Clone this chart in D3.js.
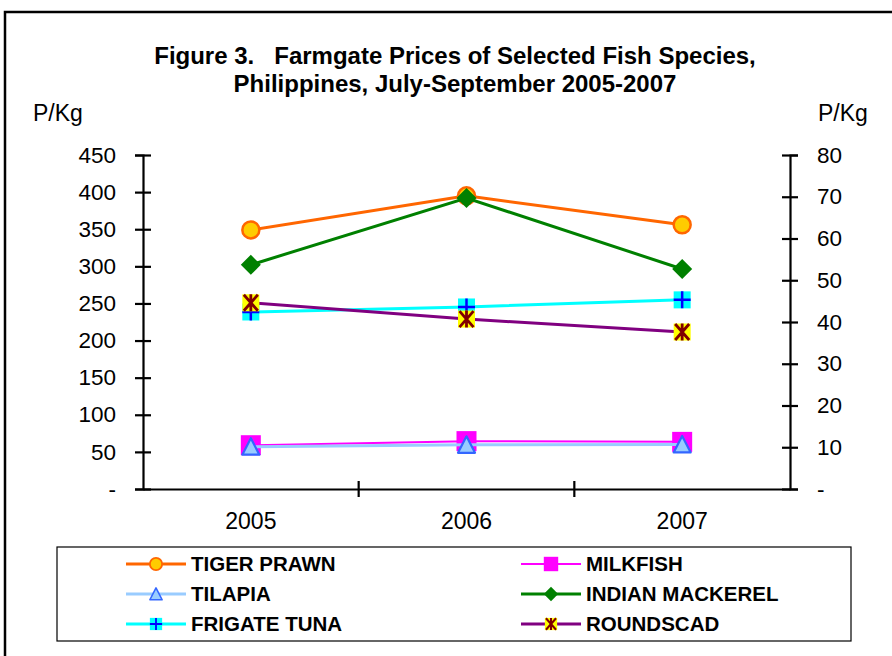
<!DOCTYPE html>
<html>
<head>
<meta charset="utf-8">
<script src="https://cdn.jsdelivr.net/npm/d3@7"></script>
<style>
  body { margin: 0; background: #fff; }
  svg { font-family: 'Liberation Sans', Arial, sans-serif; }
</style>
</head>
<body>
<svg id="container"></svg>
<script>
// data (P/Kg)
const years = ['2005', '2006', '2007']
const tigerPrawn = [349, 395, 356]
const milkfish = [59, 64.5, 63.5]
const tilapia = [57, 59.5, 60]
// these three are plotted on the right axis
const indianMackerel = [53.7, 69.7, 52.7]
const frigateTuna = [42.4, 43.6, 45.3]
const roundscad = [44.6, 40.7, 37.6]

const leftTicks = [0, 50, 100, 150, 200, 250, 300, 350, 400, 450]
const rightTicks = [0, 10, 20, 30, 40, 50, 60, 70, 80]

const series = [
  { name: 'TIGER PRAWN', values: tigerPrawn, axis: 'left', color: '#ff6600', width: 3, marker: 'circle' },
  { name: 'MILKFISH', values: milkfish, axis: 'left', color: '#ff00ff', width: 2, marker: 'square' },
  { name: 'TILAPIA', values: tilapia, axis: 'left', color: '#99ccff', width: 3, marker: 'triangle' },
  { name: 'INDIAN MACKEREL', values: indianMackerel, axis: 'right', color: '#008000', width: 3, marker: 'diamond' },
  { name: 'FRIGATE TUNA', values: frigateTuna, axis: 'right', color: '#00ffff', width: 3, marker: 'plus' },
  { name: 'ROUNDSCAD', values: roundscad, axis: 'right', color: '#800080', width: 3, marker: 'star' }
]

const width = 892
const height = 656
const margin = { top: 155, right: 102, bottom: 167, left: 143 }
const w = width - margin.left - margin.right
const h = height - margin.top - margin.bottom

const svg = d3.select('#container').attr('width', width).attr('height', height)

// outer frame, runs off the right and bottom edges
svg.append('rect')
  .attr('x', 5).attr('y', 12)
  .attr('width', 920).attr('height', 700)
  .attr('fill', 'none').attr('stroke', '#000').attr('stroke-width', 2.5)

// title
const title = svg.append('text')
  .attr('text-anchor', 'middle')
  .attr('font-weight', 'bold')
  .attr('font-size', 24)
  .style('white-space', 'pre')
title.append('tspan').attr('x', 455).attr('y', 64).text('Figure 3.   Farmgate Prices of Selected Fish Species,')
title.append('tspan').attr('x', 455).attr('y', 92).text('Philippines, July-September 2005-2007')

// unit labels
svg.append('text').attr('x', 33).attr('y', 121).attr('font-size', 23).text('P/Kg')
svg.append('text').attr('x', 818).attr('y', 121).attr('font-size', 23).text('P/Kg')

const g = svg.append('g').attr('transform', `translate(${margin.left},${margin.top})`)

const x = d3.scaleBand().domain(years).range([0, w])
const cx = d => x(d) + x.bandwidth() / 2
const yL = d3.scaleLinear().domain([0, 450]).range([h, 0])
const yR = d3.scaleLinear().domain([0, 80]).range([h, 0])

const fmt = d => (d === 0 ? '-' : d)

// left axis
const gL = g.append('g')
  .call(d3.axisLeft(yL).tickValues(leftTicks).tickFormat(fmt).tickSize(8).tickPadding(19))
gL.selectAll('.tick line').attr('x1', -8).attr('x2', 8)

// right axis
const gR = g.append('g')
  .attr('transform', `translate(${w},0)`)
  .call(d3.axisRight(yR).tickValues(rightTicks).tickFormat(fmt).tickSize(8).tickPadding(19))
gR.selectAll('.tick line').attr('x1', -8).attr('x2', 8)

// bottom axis: labels at band centres, ticks on the band edges
const gX = g.append('g')
  .attr('transform', `translate(0,${h})`)
  .call(d3.axisBottom(x).tickSize(0).tickPadding(24))
gX.selectAll('.tick line').remove()
gX.selectAll('line.edge')
  .data(years.slice(1))
  .join('line')
  .attr('class', 'edge')
  .attr('x1', d => x(d)).attr('x2', d => x(d))
  .attr('y1', -8).attr('y2', 8)
  .attr('stroke', '#000')

g.selectAll('.domain').attr('stroke', '#000').attr('stroke-width', 2.2)
g.selectAll('.tick line, line.edge').attr('stroke', '#000').attr('stroke-width', 2.2)
g.selectAll('.tick text').attr('font-size', 22.5).attr('fill', '#000')
  .attr('font-family', "'Liberation Sans', Arial, sans-serif")
gX.selectAll('.tick text').attr('font-size', 23)

// marker painter, s = scale factor
function drawMarker(sel, type, s) {
  if (type === 'circle') {
    sel.append('circle').attr('r', 8.5 * s)
      .attr('fill', '#ffcc00').attr('stroke', '#ff6600').attr('stroke-width', 2.5 * s)
  } else if (type === 'square') {
    sel.append('rect')
      .attr('x', -10 * s).attr('y', -10 * s).attr('width', 20 * s).attr('height', 20 * s)
      .attr('fill', '#ff00ff')
  } else if (type === 'triangle') {
    sel.append('path')
      .attr('d', `M0,${-8.5 * s}L${8.5 * s},${8 * s}L${-8.5 * s},${8 * s}Z`)
      .attr('fill', '#99ccff').attr('stroke', '#3366ff').attr('stroke-width', 2.2 * s)
      .attr('stroke-linejoin', 'round')
  } else if (type === 'diamond') {
    sel.append('path')
      .attr('d', `M0,${-10 * s}L${10 * s},0L0,${10 * s}L${-10 * s},0Z`)
      .attr('fill', '#008000')
  } else if (type === 'plus') {
    sel.append('rect')
      .attr('x', -8.5 * s).attr('y', -8.5 * s).attr('width', 17 * s).attr('height', 17 * s)
      .attr('fill', '#00ffff')
    sel.append('path')
      .attr('d', `M0,${-8.5 * s}V${8.5 * s}M${-8.5 * s},0H${8.5 * s}`)
      .attr('stroke', '#0000ff').attr('stroke-width', 2.5 * s)
  } else if (type === 'star') {
    sel.append('rect')
      .attr('x', -8.5 * s).attr('y', -8.5 * s).attr('width', 17 * s).attr('height', 17 * s)
      .attr('fill', '#ffff00')
    sel.append('path')
      .attr('d', `M0,${-8.5 * s}V${8.5 * s}M${-7 * s},${-8 * s}L${7 * s},${8 * s}M${7 * s},${-8 * s}L${-7 * s},${8 * s}`)
      .attr('stroke', '#800000').attr('stroke-width', 2.8 * s)
  }
}

// lines + markers
series.forEach(sr => {
  const yS = sr.axis === 'left' ? yL : yR
  const line = d3.line().x((d, i) => cx(years[i])).y(d => yS(d))
  const gs = g.append('g')
  gs.append('path')
    .datum(sr.values)
    .attr('d', line)
    .attr('fill', 'none')
    .attr('stroke', sr.color)
    .attr('stroke-width', sr.width)
  gs.selectAll('g.m')
    .data(sr.values)
    .join('g')
    .attr('class', 'm')
    .attr('transform', (d, i) => `translate(${cx(years[i])},${yS(d)})`)
    .each(function () { drawMarker(d3.select(this), sr.marker, 1) })
})

// legend
svg.append('rect')
  .attr('x', 57).attr('y', 547).attr('width', 794).attr('height', 94)
  .attr('fill', '#fff').attr('stroke', '#000').attr('stroke-width', 1.2)

const legend = svg.append('g')
const item = legend.selectAll('g')
  .data(series)
  .join('g')
  .attr('transform', (d, i) => `translate(${i % 2 === 0 ? 126 : 521},${564 + Math.floor(i / 2) * 30})`)
item.append('line')
  .attr('x1', 0).attr('x2', 60)
  .attr('stroke', d => d.color).attr('stroke-width', d => d.width)
item.append('g')
  .attr('transform', 'translate(30,0)')
  .each(function (d) { drawMarker(d3.select(this), d.marker, 0.72) })
item.append('text')
  .attr('x', 65).attr('y', 7)
  .attr('font-size', 20.5).attr('font-weight', 'bold')
  .text(d => d.name)
</script>
</body>
</html>
